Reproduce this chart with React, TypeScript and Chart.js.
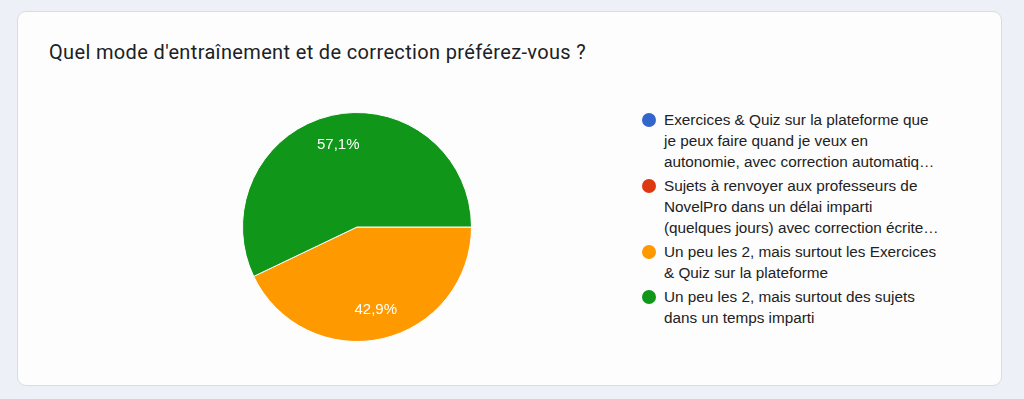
import React, { useEffect, useRef } from "react";
import { Chart, registerables } from "chart.js";

Chart.register(...registerables);

const title = "Quel mode d'entraînement et de correction préférez-vous ?";
const categories: string[][] = [
  ["Exercices & Quiz sur la plateforme que", "je peux faire quand je veux en", "autonomie, avec correction automatiq…"],
  ["Sujets à renvoyer aux professeurs de", "NovelPro dans un délai imparti", "(quelques jours) avec correction écrite…"],
  ["Un peu les 2, mais surtout les Exercices", "& Quiz sur la plateforme"],
  ["Un peu les 2, mais surtout des sujets", "dans un temps imparti"],
];
const percentages: number[] = [0, 0, 42.9, 57.1];
const colors: string[] = ["#3366cc", "#dc3912", "#ff9900", "#109618"];

const labelPlugin = {
  id: "sliceLabels",
  afterDatasetsDraw(chart: any) {
    const ctx = chart.ctx;
    const meta = chart.getDatasetMeta(0);
    ctx.save();
    ctx.fillStyle = "#ffffff";
    ctx.font = "15px 'Liberation Sans', Arial, sans-serif";
    ctx.textAlign = "center";
    ctx.textBaseline = "middle";
    meta.data.forEach((arc: any, i: number) => {
      const v = percentages[i];
      if (!v) return;
      const p = arc.getProps(["startAngle", "endAngle", "outerRadius", "x", "y"], true);
      const mid = (p.startAngle + p.endAngle) / 2;
      const r = p.outerRadius * 0.74;
      const x = p.x + Math.cos(mid) * r;
      const y = p.y + Math.sin(mid) * r;
      ctx.fillText(v.toFixed(1).replace(".", ",") + "%", x, y);
    });
    ctx.restore();
  },
};

export default function App() {
  const ref = useRef<HTMLCanvasElement | null>(null);
  useEffect(() => {
    if (!ref.current) return;
    const chart = new Chart(ref.current, {
      type: "pie",
      data: {
        labels: categories.map((c) => c.join(" ")),
        datasets: [
          {
            data: percentages,
            backgroundColor: colors,
            borderColor: "#ffffff",
            borderWidth: 1,
          },
        ],
      },
      options: {
        animation: false,
        responsive: false,
        rotation: 90,
        layout: { padding: 5 },
        plugins: {
          legend: { display: false },
          tooltip: { enabled: false },
          title: { display: false },
        },
      },
      plugins: [labelPlugin],
    });
    return () => chart.destroy();
  }, []);

  return (
    <div
      style={{
        position: "absolute",
        left: 0,
        top: 0,
        width: 1024,
        height: 399,
        background: "#eef0f7",
        overflow: "hidden",
      }}
    >
      <div
        style={{
          position: "absolute",
          left: 17,
          top: 11,
          width: 983,
          height: 373,
          background: "#fdfdfe",
          border: "1px solid #dadce0",
          borderRadius: 9,
        }}
      />
      <div
        style={{
          position: "absolute",
          left: 49,
          top: 40,
          fontFamily: "Roboto, 'Noto Sans', sans-serif",
          fontSize: 20,
          letterSpacing: "0.35px",
          lineHeight: "24px",
          color: "#202124",
          whiteSpace: "nowrap",
        }}
      >
        {title}
      </div>
      <canvas
        ref={ref}
        width={240}
        height={240}
        style={{ position: "absolute", left: 237, top: 107, width: 240, height: 240 }}
      />
      <div
        style={{
          position: "absolute",
          left: 642,
          top: 109,
          fontFamily: "'Liberation Sans', Arial, sans-serif",
          fontSize: 15.3,
          lineHeight: "21px",
          color: "#222222",
        }}
      >
        {categories.map((lines, i) => (
          <div key={i} style={{ display: "flex", marginBottom: 3 }}>
            <div style={{ width: 22, position: "relative", flex: "none" }}>
              <div
                style={{
                  position: "absolute",
                  left: 0,
                  top: 4,
                  width: 14,
                  height: 14,
                  borderRadius: 7,
                  background: colors[i],
                }}
              />
            </div>
            <div style={{ whiteSpace: "nowrap" }}>
              {lines.map((l, j) => (
                <div key={j}>{l}</div>
              ))}
            </div>
          </div>
        ))}
      </div>
    </div>
  );
}
